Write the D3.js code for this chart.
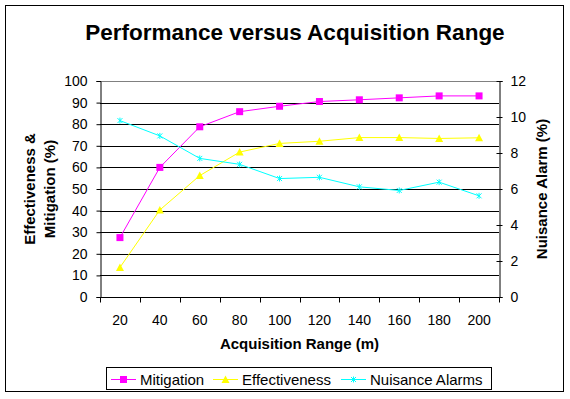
<!DOCTYPE html>
<html><head><meta charset="utf-8">
<script src="https://cdn.jsdelivr.net/npm/d3@7"></script>
<style>
html,body{margin:0;padding:0;background:#fff;}
svg{display:block;font-family:"Liberation Sans",Arial,sans-serif;}
</style></head>
<body>
<script>
const categories = [20,40,60,80,100,120,140,160,180,200];
const mitigation = [27.5,60.0,78.8,85.8,88.3,90.5,91.3,92.2,93.1,93.1];
const effectiveness = [13.7,40.3,56.2,67.1,71.1,72.1,73.8,73.8,73.4,73.7];
const nuisanceAlarms = [9.8,8.95,7.7,7.37,6.58,6.65,6.12,5.92,6.38,5.62];
const leftTicks = [0,10,20,30,40,50,60,70,80,90,100];
const rightTicks = [0,2,4,6,8,10,12];

const W=570,H=399;
const FONT="Liberation Sans, Arial, sans-serif";
const svg=d3.select("body").append("svg").attr("width",W).attr("height",H);
svg.append("rect").attr("x",5.5).attr("y",5.5).attr("width",558).attr("height",386)
  .attr("fill","#fff").attr("stroke","#000").attr("stroke-width",1);

const L=100,R=499,T=81,B=297;
const x=d3.scaleBand().domain(categories).range([L,R]);
const yL=d3.scaleLinear().domain([0,100]).range([B,T]);
const yR=d3.scaleLinear().domain([0,12]).range([B,T]);

// grid
const g=svg.append("g");
g.selectAll("line.grid").data(leftTicks.filter(d=>d>0&&d<100)).join("line")
  .attr("x1",L).attr("x2",R).attr("y1",d=>Math.round(yL(d))+0.5).attr("y2",d=>Math.round(yL(d))+0.5)
  .attr("stroke","#000").attr("stroke-width",1);
g.append("line").attr("x1",L).attr("x2",R).attr("y1",T+0.5).attr("y2",T+0.5).attr("stroke","#808080");

// left axis
const la=svg.append("g").attr("transform",`translate(${L+0.5},0)`)
  .call(d3.axisLeft(yL).tickValues(leftTicks).tickSize(4).tickPadding(9));
// right axis
const ra=svg.append("g").attr("transform",`translate(${R+0.5},0)`)
  .call(d3.axisRight(yR).tickValues(rightTicks).tickSize(3).tickPadding(8));
ra.selectAll(".tick line").attr("x1",-3);
// x axis
const xa=svg.append("g").attr("transform",`translate(0,${B+0.5})`)
  .call(d3.axisBottom(x).tickSize(0).tickPadding(16));
xa.selectAll(".tick text").attr("dy",null).attr("y",27);
const edges=categories.map(c=>x(c)).concat([R]);
xa.selectAll("line.edge").data(edges).join("line").attr("class","edge")
  .attr("x1",d=>Math.round(d)+0.5).attr("x2",d=>Math.round(d)+0.5).attr("y1",0).attr("y2",5).attr("stroke","#000");
[la,ra,xa].forEach(a=>{
  a.selectAll("path.domain").attr("stroke","#000");
  a.selectAll("text").attr("font-size",14).attr("font-family",FONT).attr("fill","#000");
  a.selectAll(".tick line").attr("stroke","#000");
});
xa.select("path.domain").attr("d",`M${L},0H${R}`);

const cx=d=>x(d)+x.bandwidth()/2;

function series(vals,scale,color){
  const line=d3.line().x((d,i)=>cx(categories[i])).y(d=>scale(d));
  svg.append("path").datum(vals).attr("d",line).attr("fill","none").attr("stroke",color).attr("stroke-width",1);
}
series(mitigation,yL,"#FF00FF");
series(effectiveness,yL,"#FFFF00");
series(nuisanceAlarms,yR,"#00FFFF");

function square(sel,px,py){sel.append("rect").attr("x",px-3.5).attr("y",py-3.5).attr("width",7).attr("height",7).attr("fill","#FF00FF");}
function tri(sel,px,py){sel.append("path").attr("d",`M${px},${py-4}L${px+4},${py+3.5}L${px-4},${py+3.5}Z`).attr("fill","#FFFF00");}
function star(sel,px,py){sel.append("path").attr("d",`M${px-2.5},${py-2.5}L${px+2.5},${py+2.5}M${px+2.5},${py-2.5}L${px-2.5},${py+2.5}M${px},${py-3}L${px},${py+3}`).attr("stroke","#00FFFF").attr("stroke-width",1).attr("fill","none");}

mitigation.forEach((v,i)=>square(svg,cx(categories[i]),yL(v)));
effectiveness.forEach((v,i)=>tri(svg,cx(categories[i]),yL(v)));
nuisanceAlarms.forEach((v,i)=>star(svg,cx(categories[i]),yR(v)));

// titles
svg.append("text").attr("x",295).attr("y",40).attr("text-anchor","middle")
  .attr("font-size",22.5).attr("font-weight","bold").text("Performance versus Acquisition Range");
svg.append("text").attr("x",(L+R)/2).attr("y",349).attr("text-anchor","middle")
  .attr("font-size",15).attr("font-weight","bold").text("Acquisition Range (m)");
const yt=svg.append("text").attr("transform",`translate(35,${(T+B)/2}) rotate(-90)`)
  .attr("text-anchor","middle").attr("font-size",15).attr("font-weight","bold");
yt.append("tspan").attr("x",0).attr("dy",0).text("Effectiveness &");
yt.append("tspan").attr("x",0).attr("dy",20).text("Mitigation (%)");
svg.append("text").attr("transform",`translate(547,${(T+B)/2}) rotate(-90)`)
  .attr("text-anchor","middle").attr("font-size",15).attr("font-weight","bold").text("Nuisance Alarm (%)");

// legend
const lg=svg.append("g");
lg.append("rect").attr("x",106.5).attr("y",367.5).attr("width",385).attr("height",22).attr("fill","#fff").attr("stroke","#000");
const legendItems=[
  {name:"Mitigation",color:"#FF00FF",mk:square,x0:111},
  {name:"Effectiveness",color:"#FFFF00",mk:tri,x0:213},
  {name:"Nuisance Alarms",color:"#00FFFF",mk:star,x0:341}
];
legendItems.forEach(it=>{
  const ly=379;
  lg.append("line").attr("x1",it.x0).attr("x2",it.x0+25).attr("y1",ly+0.5).attr("y2",ly+0.5).attr("stroke",it.color);
  it.mk(lg,it.x0+12.5,ly+0.5);
  lg.append("text").attr("x",it.x0+29).attr("y",ly+6).attr("font-size",15).text(it.name);
});
</script>
</body></html>
